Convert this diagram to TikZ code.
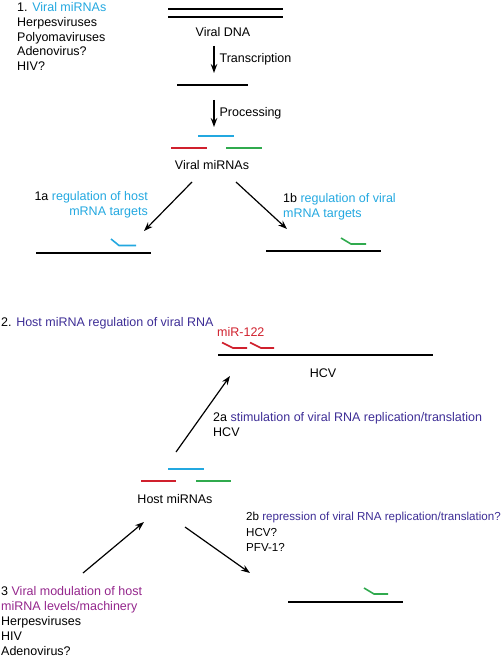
\documentclass[tikz,border=0pt]{standalone}
\usepackage{fontspec}
\setmainfont{Liberation Sans}
\usepackage{tikz}
\usetikzlibrary{arrows.meta, positioning}
\definecolor{vircyan}{RGB}{35, 168, 224}
\definecolor{mirred}{RGB}{208, 32, 45}
\definecolor{mirgreen}{RGB}{48, 170, 78}
\definecolor{hostblue}{RGB}{62, 46, 150}
\definecolor{modpurple}{RGB}{148, 38, 140}
\tikzset{
  strand/.style={line width=2pt, black},
  mirna/.style={line width=1.6pt},
  flow/.style={line width=1.2pt, -{Stealth[length=9pt, width=6.5pt]}},
  lbl/.style={inner sep=0pt, font=\fontsize{12.5}{15}\selectfont},
}

\begin{document}
\begin{tikzpicture}[x=1pt, y=-1pt]
  \useasboundingbox (0,0) rectangle (502,658);

  % 1. viral miRNAs (base = last line)
  \node[lbl, anchor=base west, align=left, font=\fontsize{12.5}{14.7}\selectfont] (virlist) at (17, 70.5)
    {1. \textcolor{vircyan}{Viral miRNAs}\\Herpesviruses\\Polyomaviruses\\Adenovirus?\\HIV?};

  % Viral DNA and transcript
  \draw[strand] (168, 9.3) -- (283, 9.3);
  \draw[strand] (168, 17.3) -- (283, 17.3);
  \node[lbl, anchor=base] (dna) at (223, 36.5) {Viral DNA};
  \draw[strand] (177, 85) -- (248, 85);
  \coordinate (tsA) at (214, 46);
  \coordinate (tsB) at (214, 73);
  \draw[flow] (tsA) -- (tsB) node[lbl, midway, right=5pt] (trans) {Transcription};

  % Processing into miRNAs
  \coordinate (prA) at (214, 100);
  \coordinate (prB) at (214, 127);
  \draw[flow] (prA) -- (prB) node[lbl, midway, right=5pt] (proc) {Processing};
  \draw[mirna, vircyan] (198, 136) -- (234, 136);
  \draw[mirna, mirred] (171, 148) -- (207, 148);
  \draw[mirna, mirgreen] (226, 148) -- (262, 148);
  \node[lbl, anchor=base] (virmir) at (212, 169.5) {Viral miRNAs};

  % 1a and 1b
  \coordinate (aEnd) at (144, 231);
  \coordinate (bEnd) at (287, 229);
  \draw[flow] (192, 182) -- (aEnd);
  \draw[flow] (236, 182) -- (bEnd);
  \node[lbl, anchor=base east, align=right] (oneA) at (148, 215.5)
    {1a \textcolor{vircyan}{regulation of host}\\\textcolor{vircyan}{mRNA targets}};
  \node[lbl, anchor=base west, align=left] (oneB) at (283, 217.5)
    {1b \textcolor{vircyan}{regulation of viral}\\\textcolor{vircyan}{mRNA targets}};
  \draw[strand] (36, 253) -- (151, 253);
  \draw[mirna, vircyan] (111, 239) -- (119, 245.5) -- (136, 245.5);
  \draw[strand] (266, 251) -- (381, 251);
  \draw[mirna, mirgreen] (341, 238) -- (351, 244) -- (366, 244);

  % 2. host miRNAs
  \node[lbl, anchor=base west] (hostttl) at (1, 326.5)
    {2. \textcolor{hostblue}{Host miRNA regulation of viral RNA}};
  \node[lbl, anchor=base west, text=mirred] (mir122) at (217, 336.5) {miR-122};
  \draw[mirna, mirred] (222, 342.5) -- (233, 348) -- (247, 348);
  \draw[mirna, mirred] (250, 342.5) -- (261, 348) -- (274, 348);
  \draw[strand] (218, 355) -- (433, 355);
  \node[lbl, anchor=base] (hcv) at (323, 377.5) {HCV};

  \node[lbl, anchor=base west, align=left] (twoA) at (213, 436.5)
    {2a \textcolor{hostblue}{stimulation of viral RNA replication/translation}\\HCV};

  \draw[mirna, vircyan] (168, 469) -- (204, 469);
  \draw[mirna, mirred] (141, 481) -- (176, 481);
  \draw[mirna, mirgreen] (196, 481) -- (231, 481);
  \node[lbl, anchor=base] (hostmir) at (175, 503.5) {Host miRNAs};

  \coordinate (sA) at (176, 452);
  \coordinate (sB) at (230, 376);
  \draw[flow] (sA) -- (sB);

  \node[lbl, anchor=base west, align=left, font=\fontsize{11.6}{15.5}\selectfont] (twoB) at (246, 551.5)
    {2b \textcolor{hostblue}{repression of viral RNA replication/translation?}\\HCV?\\PFV-1?};
  \coordinate (rA) at (185, 527);
  \coordinate (rB) at (250, 573);
  \draw[flow] (rA) -- (rB);
  \draw[strand] (288, 602) -- (403, 602);
  \draw[mirna, mirgreen] (364, 588) -- (374, 594) -- (388, 594);

  % 3. viral modulation
  \coordinate (mA) at (83, 573);
  \coordinate (mB) at (144, 522);
  \draw[flow] (mA) -- (mB);
  \node[lbl, anchor=base west, align=left] (three) at (1, 655.5)
    {3 \textcolor{modpurple}{Viral modulation of host}\\\textcolor{modpurple}{miRNA levels/machinery}\\Herpesviruses\\HIV\\Adenovirus?};
\end{tikzpicture}
\end{document}
